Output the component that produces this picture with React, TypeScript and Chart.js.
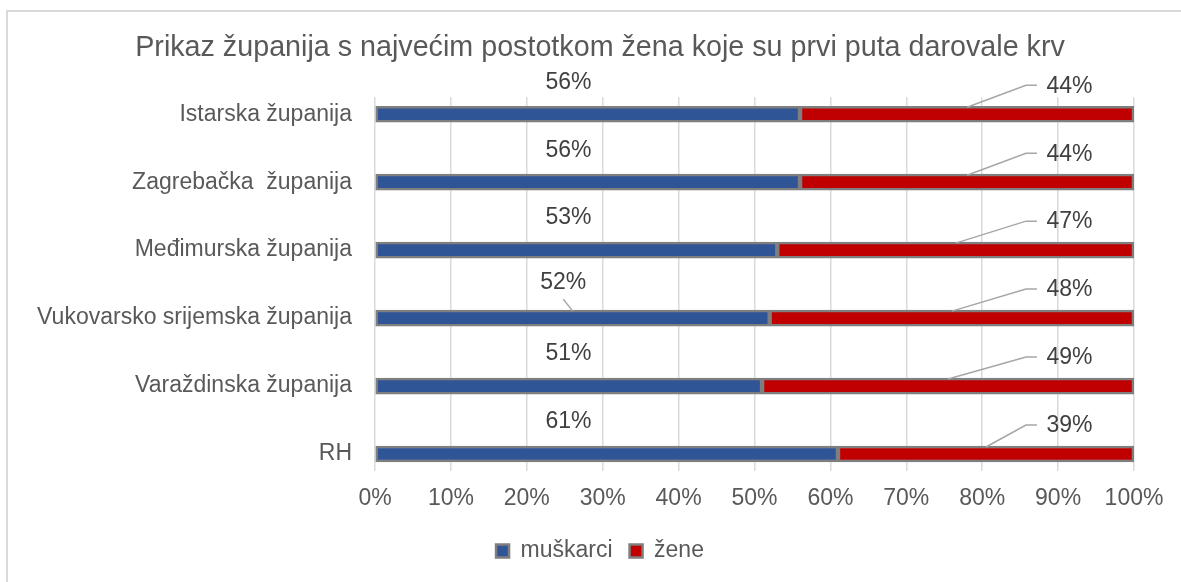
import React, { useEffect, useRef } from 'react';
import { Chart, registerables } from 'chart.js';

Chart.register(...registerables);

const categories = [
  'Istarska županija',
  'Zagrebačka  županija',
  'Međimurska županija',
  'Vukovarsko srijemska županija',
  'Varaždinska županija',
  'RH',
];
const seriesNames = ['muškarci', 'žene'];
const men = [56, 56, 53, 52, 51, 61];
const women = [44, 44, 47, 48, 49, 39];
const xTicks = [0, 10, 20, 30, 40, 50, 60, 70, 80, 90, 100];
const titleText = 'Prikaz županija s najvećim postotkom žena koje su prvi puta darovale krv';

const FONT = '"Liberation Sans", Arial, sans-serif';
const BLUE = '#2F5597';
const RED = '#C00000';
const EDGE = '#7F7F7F';
const TEXT = '#595959';
const LABEL = '#404040';
const LEADER = '#A6A6A6';

// label placement (annotation layout, not data)
const blueLeader = [false, false, false, true, false, false];

const borderPlugin = {
  id: 'outerBorder',
  beforeDraw(chart: any) {
    const ctx = chart.ctx;
    ctx.save();
    ctx.fillStyle = '#ffffff';
    ctx.fillRect(0, 0, chart.width, chart.height);
    ctx.strokeStyle = '#D9D9D9';
    ctx.lineWidth = 2;
    ctx.beginPath();
    ctx.moveTo(7, chart.height + 5);
    ctx.lineTo(7, 11);
    ctx.lineTo(chart.width + 5, 11);
    ctx.stroke();
    ctx.restore();
  },
};

const labelPlugin = {
  id: 'valueLabels',
  afterDatasetsDraw(chart: any) {
    const ctx = chart.ctx;
    const xs = chart.scales.x;
    const m0 = chart.getDatasetMeta(0);
    const m1 = chart.getDatasetMeta(1);
    ctx.save();
    ctx.font = `23px ${FONT}`;
    ctx.fillStyle = LABEL;
    ctx.textAlign = 'center';
    ctx.textBaseline = 'middle';
    ctx.strokeStyle = LEADER;
    ctx.lineWidth = 1.5;
    categories.forEach((_, i) => {
      const b = m0.data[i];
      const r = m1.data[i];
      const top = b.y - b.height / 2;
      // blue label
      const bx = xs.getPixelForValue(blueLeader[i] ? 24.8 : 25.5);
      const by = b.y - (blueLeader[i] ? 35 : 32);
      ctx.fillText(men[i] + '%', bx, by);
      if (blueLeader[i]) {
        const mid = (b.x + b.base) / 2;
        ctx.beginPath();
        ctx.moveTo(bx, by + 16);
        ctx.lineTo(mid, top + 1);
        ctx.stroke();
      }
      // red label
      const rx = xs.getPixelForValue(91.5);
      const ry = r.y - 28;
      ctx.fillText(women[i] + '%', rx, ry);
      const rmid = (r.x + r.base) / 2;
      const left = rx - 23.5;
      ctx.beginPath();
      ctx.moveTo(rmid, top + 1);
      ctx.lineTo(left - 20, ry - 1);
      ctx.lineTo(left - 9, ry - 1);
      ctx.stroke();
    });
    ctx.restore();
  },
};

export default function App() {
  const ref = useRef<HTMLCanvasElement | null>(null);
  useEffect(() => {
    if (!ref.current) return;
    const chart = new Chart(ref.current, {
      type: 'bar',
      data: {
        datasets: [
          {
            label: seriesNames[0],
            data: men.map((v, i) => ({ x: v, y: i })),
            backgroundColor: BLUE,
            borderColor: EDGE,
            borderWidth: 2.5,
            borderSkipped: false,
            barThickness: 16,
          },
          {
            label: seriesNames[1],
            data: women.map((v, i) => ({ x: v, y: i })),
            backgroundColor: RED,
            borderColor: EDGE,
            borderWidth: 2.5,
            borderSkipped: false,
            barThickness: 16,
          },
        ],
      },
      options: {
        indexAxis: 'y',
        responsive: false,
        animation: false,
        layout: { padding: { left: 0, right: 0, top: 0, bottom: 27.5 } },
        scales: {
          x: {
            type: 'linear',
            stacked: true,
            min: 0,
            max: 100,
            offset: false,
            afterBuildTicks: (s: any) => {
              s.ticks = xTicks.map((v) => ({ value: v }));
            },
            afterFit: (s: any) => {
              s.height = 51.5;
              s.paddingRight = 66;
            },
            grid: { color: '#D9D9D9', lineWidth: 1.5, drawTicks: false, offset: false },
            border: { display: false },
            ticks: {
              padding: 14,
              color: TEXT,
              font: { family: FONT, size: 23 },
              maxRotation: 0,
              autoSkip: false,
              callback: (v: any) => v + '%',
            },
          },
          y: {
            type: 'linear',
            stacked: true,
            reverse: true,
            offset: false,
            min: -0.25,
            max: 5.25,
            afterFit: (s: any) => {
              s.width = 375;
            },
            grid: { display: false, drawTicks: false, offset: false },
            border: { display: false },
            ticks: {
              stepSize: 1,
              includeBounds: false,
              autoSkip: false,
              padding: 23,
              color: TEXT,
              font: { family: FONT, size: 23 },
              callback: (v: any) => (Number.isInteger(v) && categories[v] !== undefined ? categories[v] : ''),
            },
          },
        },
        plugins: {
          title: {
            display: true,
            text: titleText,
            color: TEXT,
            font: { family: FONT, size: 28.7, weight: 'normal' },
            padding: { top: 31, bottom: 31.8 },
          },
          legend: {
            display: true,
            position: 'bottom',
            labels: {
              boxWidth: 13,
              boxHeight: 13,
              padding: 17,
              color: TEXT,
              font: { family: FONT, size: 23 },
            },
          },
          tooltip: { enabled: false },
        },
      },
      plugins: [borderPlugin, labelPlugin],
    } as any);
    return () => chart.destroy();
  }, []);
  return (
    <div style={{ position: 'fixed', left: 0, top: 0, width: 1181, height: 582, overflow: 'hidden', background: '#fff' }}>
      <canvas ref={ref} width={1200} height={600} style={{ display: 'block' }} />
    </div>
  );
}
